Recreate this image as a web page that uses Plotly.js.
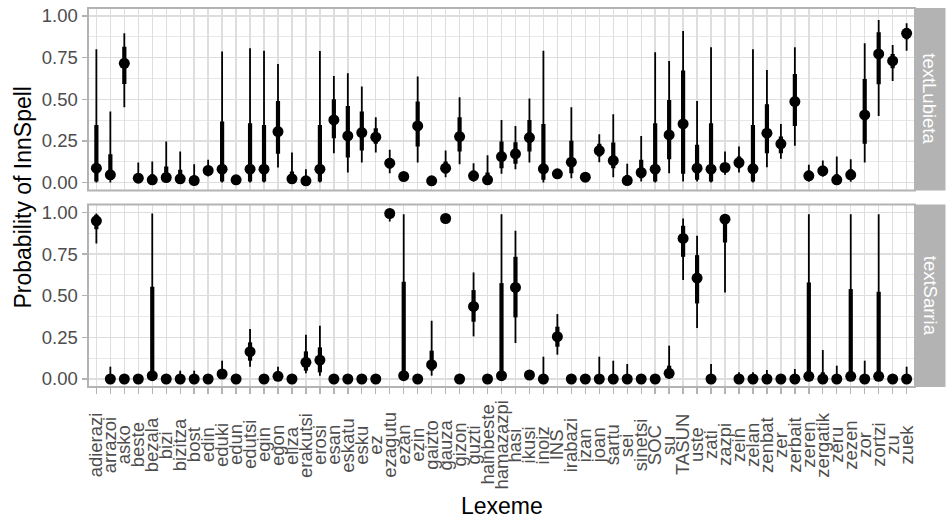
<!DOCTYPE html>
<html>
<head>
<meta charset="utf-8">
<script src="https://cdn.plot.ly/plotly-3.0.1.min.js"></script>
<style>html,body{margin:0;padding:0;background:#fff;}#chart{width:946px;height:518px;}</style>
</head>
<body>
<div id="chart"></div>
<script>
const lexemes = ["adierazi","arrazoi","asko","beste","bezala","bizi","bizitza","bost","edin","eduki","edun","edutsi","egin","egon","eliza","erakutsi","erosi","esan","eskatu","esku","ez","ezagutu","ezan","ezin","gaizto","gauza","gizon","guzti","hainbeste","hamazazpi","hasi","ikusi","inoiz","INS","irabazi","izan","joan","sartu","sei","sinetsi","SOC","su","TASUN","uste","zati","zazpi","zein","zelan","zenbat","zer","zerbait","zeren","zergatik","zeru","zezen","zor","zortzi","zu","zuek"];

const panelNames = ["textLubieta", "textSarria"];
const yTicks = [0, 0.25, 0.5, 0.75, 1];
const yTickText = ["0.00", "0.25", "0.50", "0.75", "1.00"];

// textLubieta
const lubMed  = [0.086,0.046,0.716,0.026,0.016,0.030,0.022,0.012,0.072,0.080,0.016,0.080,0.080,0.306,0.022,0.010,0.080,0.376,0.280,0.300,0.272,0.116,0.036,0.340,0.010,0.086,0.276,0.040,0.016,0.156,0.172,0.270,0.082,0.052,0.122,0.032,0.192,0.132,0.012,0.060,0.080,0.286,0.352,0.086,0.080,0.090,0.120,0.082,0.296,0.232,0.486,0.040,0.070,0.016,0.046,0.406,0.772,0.730,0.896];
const lubLo66 = [0.006,0.016,0.592,0.005,0.003,0.005,0.004,0.002,0.050,0.006,0.005,0.006,0.006,0.172,0.004,0.002,0.006,0.266,0.150,0.192,0.232,0.086,0.020,0.216,0.003,0.056,0.186,0.020,0.003,0.086,0.112,0.186,0.016,0.040,0.056,0.020,0.156,0.086,0.002,0.026,0.006,0.140,0.052,0.016,0.006,0.066,0.086,0.006,0.176,0.176,0.340,0.020,0.050,0.003,0.020,0.232,0.590,0.686,0.860];
const lubHi66 = [0.346,0.170,0.816,0.056,0.050,0.096,0.076,0.040,0.100,0.366,0.030,0.356,0.346,0.490,0.066,0.035,0.346,0.500,0.460,0.426,0.326,0.146,0.050,0.486,0.020,0.126,0.392,0.070,0.060,0.246,0.242,0.376,0.352,0.065,0.250,0.045,0.232,0.240,0.045,0.136,0.356,0.496,0.672,0.226,0.356,0.116,0.156,0.346,0.470,0.276,0.652,0.070,0.095,0.050,0.080,0.622,0.902,0.772,0.926];
const lubLo95 = [0.000,0.000,0.452,0.000,0.000,0.000,0.000,0.000,0.036,0.000,0.000,0.000,0.000,0.090,0.000,0.000,0.000,0.176,0.060,0.120,0.180,0.056,0.010,0.120,0.000,0.032,0.110,0.005,0.000,0.052,0.080,0.120,0.000,0.030,0.026,0.010,0.122,0.032,0.000,0.006,0.000,0.056,0.006,0.006,0.000,0.046,0.060,0.000,0.092,0.142,0.220,0.005,0.035,0.000,0.005,0.120,0.400,0.610,0.792];
const lubHi95 = [0.800,0.426,0.896,0.120,0.126,0.246,0.186,0.110,0.136,0.786,0.040,0.806,0.792,0.712,0.180,0.080,0.790,0.640,0.656,0.576,0.392,0.196,0.060,0.636,0.030,0.192,0.512,0.116,0.164,0.376,0.340,0.504,0.792,0.075,0.452,0.055,0.290,0.410,0.112,0.280,0.782,0.730,0.910,0.490,0.812,0.186,0.216,0.800,0.676,0.352,0.812,0.106,0.132,0.156,0.140,0.836,0.976,0.826,0.956];

// textSarria
const sarMed  = [0.950,0.000,0.000,0.000,0.020,0.000,0.000,0.000,0.000,0.030,0.000,0.164,0.000,0.016,0.000,0.100,0.114,0.000,0.000,0.000,0.000,0.994,0.020,0.000,0.086,0.964,0.000,0.436,0.000,0.020,0.550,0.024,0.000,0.254,0.000,0.000,0.000,0.000,0.000,0.000,0.000,0.034,0.844,0.606,0.000,0.960,0.000,0.000,0.000,0.000,0.000,0.016,0.000,0.000,0.016,0.000,0.016,0.000,0.000];
const sarLo66 = [0.900,0.000,0.000,0.000,0.000,0.000,0.000,0.000,0.000,0.010,0.000,0.110,0.000,0.005,0.000,0.050,0.040,0.000,0.000,0.000,0.000,0.975,0.000,0.000,0.050,0.955,0.000,0.344,0.000,0.000,0.370,0.015,0.000,0.194,0.000,0.000,0.000,0.000,0.000,0.000,0.000,0.010,0.734,0.454,0.000,0.820,0.000,0.000,0.000,0.000,0.000,0.000,0.000,0.000,0.000,0.000,0.000,0.000,0.000];
const sarHi66 = [0.986,0.020,0.005,0.005,0.554,0.005,0.015,0.015,0.005,0.060,0.005,0.220,0.005,0.035,0.005,0.166,0.190,0.005,0.005,0.005,0.005,0.998,0.584,0.005,0.170,0.972,0.005,0.534,0.005,0.576,0.734,0.030,0.030,0.314,0.005,0.005,0.030,0.025,0.020,0.005,0.005,0.080,0.920,0.744,0.020,0.980,0.010,0.010,0.015,0.005,0.015,0.580,0.040,0.020,0.540,0.025,0.524,0.005,0.020];
const sarLo95 = [0.814,0.000,0.000,0.000,0.000,0.000,0.000,0.000,0.000,0.000,0.000,0.074,0.000,0.000,0.000,0.034,0.020,0.000,0.000,0.000,0.000,0.946,0.000,0.000,0.020,0.945,0.000,0.256,0.000,0.000,0.216,0.010,0.000,0.146,0.000,0.000,0.000,0.000,0.000,0.000,0.000,0.000,0.594,0.306,0.000,0.520,0.000,0.000,0.000,0.000,0.000,0.000,0.000,0.000,0.000,0.000,0.000,0.000,0.000];
const sarHi95 = [0.994,0.074,0.010,0.010,0.994,0.010,0.050,0.050,0.010,0.110,0.010,0.300,0.010,0.074,0.010,0.266,0.320,0.010,0.010,0.010,0.010,0.999,0.990,0.010,0.350,0.980,0.010,0.640,0.010,0.990,0.890,0.035,0.134,0.390,0.010,0.010,0.134,0.110,0.090,0.010,0.010,0.200,0.964,0.860,0.090,0.990,0.040,0.040,0.054,0.010,0.060,0.990,0.174,0.080,0.990,0.110,0.990,0.010,0.074];

const FONT = "Liberation Sans, Arial, Helvetica, sans-serif";
const GRID = "#DEDEDE", BORDER = "#B3B3B3", TICKTXT = "#4D4D4D";

function segTrace(lo, hi, width, xa, ya) {
  const x = [], y = [];
  for (let i = 0; i < lexemes.length; i++) {
    x.push(lexemes[i], lexemes[i], null);
    y.push(lo[i], hi[i], null);
  }
  return {type: "scatter", mode: "lines", x, y, xaxis: xa, yaxis: ya,
          line: {color: "#000", width: width}, hoverinfo: "skip", showlegend: false};
}
function ptTrace(med, xa, ya) {
  return {type: "scatter", mode: "markers", x: lexemes, y: med, xaxis: xa, yaxis: ya,
          marker: {color: "#000", size: 11}, showlegend: false};
}

const data = [
  segTrace(lubLo95, lubHi95, 1.8, "x", "y"),
  segTrace(lubLo66, lubHi66, 4.2, "x", "y"),
  ptTrace(lubMed, "x", "y"),
  segTrace(sarLo95, sarHi95, 1.8, "x2", "y2"),
  segTrace(sarLo66, sarHi66, 4.2, "x2", "y2"),
  ptTrace(sarMed, "x2", "y2")
];

function xAxis(anchor, ticks) {
  return {domain: [0, 1], anchor: anchor, type: "category", categoryorder: "array",
    categoryarray: lexemes, range: [-0.6, lexemes.length - 0.4],
    tickmode: "array", tickvals: lexemes, showticklabels: false,
    ticks: ticks ? "outside" : "", ticklen: 5.5, tickwidth: 1.4, tickcolor: BORDER,
    showgrid: true, gridcolor: GRID, gridwidth: 1.4, zeroline: false, showline: false, fixedrange: true};
}
function yAxis(domain, anchor) {
  return {domain: domain, anchor: anchor, range: [-0.048, 1.048],
    tickmode: "array", tickvals: yTicks, ticktext: yTickText,
    ticks: "outside", ticklen: 5.5, tickwidth: 1.4, tickcolor: BORDER,
    tickfont: {family: FONT, size: 18.5, color: TICKTXT},
    showgrid: true, gridcolor: GRID, gridwidth: 1.4,
    minor: {tickvals: [0.125, 0.375, 0.625, 0.875], showgrid: true, gridcolor: GRID, gridwidth: 0.7, ticks: ""},
    zeroline: false, showline: false, fixedrange: true};
}

const shapes = [];
const annotations = [];
[["y", panelNames[0]], ["y2", panelNames[1]]].forEach(([ya, name]) => {
  shapes.push({type: "rect", xref: "paper", yref: ya + " domain", x0: 1.0, x1: 858 / 827.5, y0: 0, y1: 1,
    fillcolor: BORDER, line: {width: 0}, layer: "below"});
  shapes.push({type: "rect", xref: "paper", yref: ya + " domain", x0: 0, x1: 1, y0: 0, y1: 1,
    line: {color: BORDER, width: 2}, fillcolor: "rgba(0,0,0,0)", layer: "above"});
  annotations.push({text: name, xref: "paper", yref: ya + " domain", x: (842.5) / 827.5, y: 0.5,
    xanchor: "center", yanchor: "middle", textangle: 90, showarrow: false,
    font: {family: FONT, size: 18.5, color: "#FFFFFF"}});
});
lexemes.forEach(l => {
  annotations.push({text: l, xref: "x2", yref: "paper", x: l, y: -0.153,
    xanchor: "center", yanchor: "middle", textangle: -90, showarrow: false,
    font: {family: FONT, size: 18.5, color: TICKTXT}});
});
annotations.push({text: "Probability of InnSpell", xref: "paper", yref: "paper", x: -0.0798, y: 0.5,
  xanchor: "center", yanchor: "middle", textangle: -90, showarrow: false,
  font: {family: FONT, size: 23, color: "#000"}});
annotations.push({text: "Lexeme", xref: "paper", yref: "paper", x: 0.5, y: -0.314,
  xanchor: "center", yanchor: "middle", showarrow: false,
  font: {family: FONT, size: 23, color: "#000"}});

const layout = {
  width: 946, height: 518,
  margin: {l: 88, r: 30.5, t: 8, b: 131},
  paper_bgcolor: "#FFFFFF", plot_bgcolor: "#FFFFFF",
  showlegend: false,
  xaxis: xAxis("y", false),
  xaxis2: xAxis("y2", true),
  yaxis: yAxis([0.5185, 1], "x"),
  yaxis2: yAxis([0, 0.4815], "x2"),
  shapes: shapes,
  annotations: annotations,
  font: {family: FONT}
};

Plotly.newPlot("chart", data, layout, {staticPlot: true, displayModeBar: false});
</script>
</body>
</html>
